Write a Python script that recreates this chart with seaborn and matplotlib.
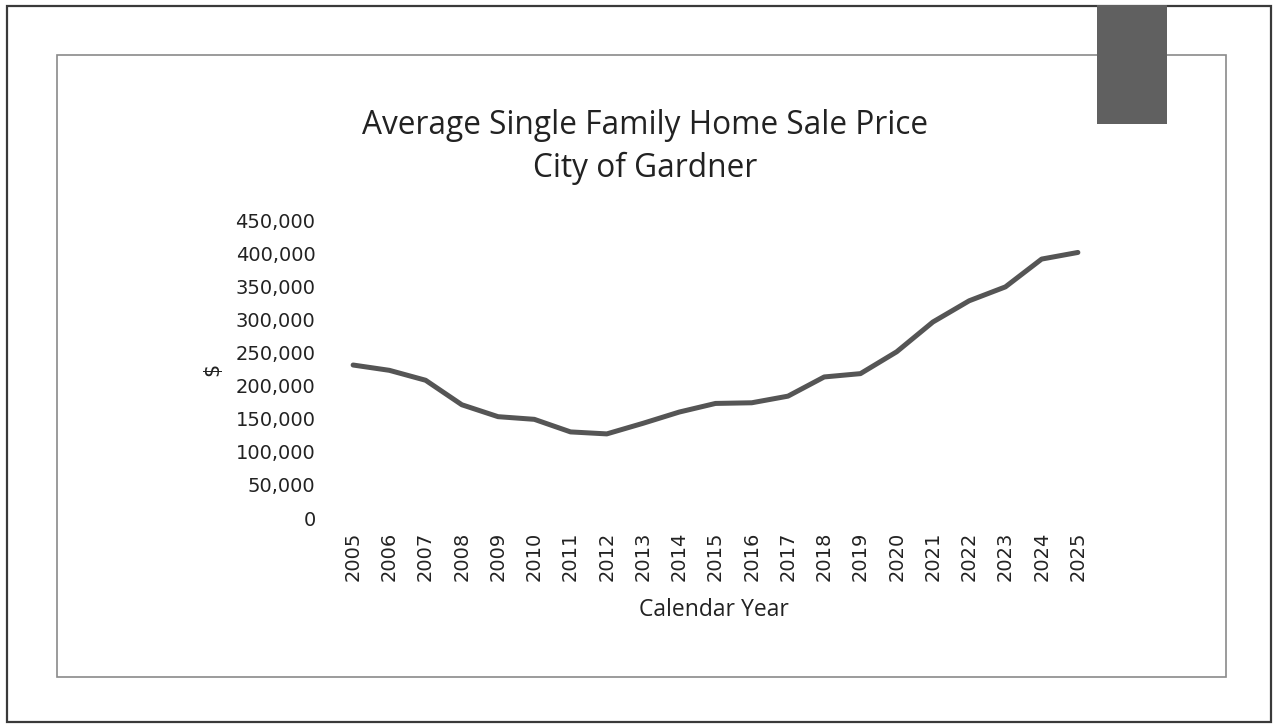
import matplotlib
matplotlib.use("Agg")
import matplotlib.pyplot as plt
import seaborn as sns
import pandas as pd
from matplotlib.patches import Rectangle
from matplotlib.ticker import FuncFormatter

# ─── Data ──────────────────────────────────────────────────────────────────────

years = [str(y) for y in range(2005, 2026)]
avg_price = [
    231000, 223000, 208000, 171000, 153000, 149000, 130000, 127000,
    143000, 160000, 173000, 174000, 184000, 213000, 218000, 251000,
    296000, 328000, 349000, 391000, 401000,
]
y_ticks = [0, 50000, 100000, 150000, 200000, 250000, 300000, 350000, 400000, 450000]

W, H = 1273, 724

sns.set_theme(style="white")
plt.rcParams['font.family'] = ['DejaVu Sans']

fig = plt.figure(figsize=(W / 100, H / 100), dpi=100)
fig.patch.set_facecolor("white")


def px_rect(x0, y0, x1, y1, **kw):
    """Rectangle in pixel coords (origin top-left) added to the figure."""
    r = Rectangle((x0 / W, 1 - y1 / H), (x1 - x0) / W, (y1 - y0) / H,
                  transform=fig.transFigure, **kw)
    fig.patches.append(r)


# outer frame, inner chart frame, scanned dark patch
px_rect(7, 6, 1271, 722, fill=False, edgecolor="#3a3a3a", lw=1.6)
px_rect(57, 55, 1226, 677, fill=False, edgecolor="#8a8a8a", lw=1.2)
px_rect(1097, 5, 1167, 124, facecolor="#606060", edgecolor="none")

# ─── Plot ───────────────────────────────────────────────────────────────────────

ax = fig.add_axes([335 / W, 1 - 518 / H, (1096 - 335) / W, (518 - 220) / H])
df = pd.DataFrame({"year": years, "price": avg_price})
sns.lineplot(data=df, x="year", y="price", ax=ax, color="#555555", lw=3.6,
             sort=False)

ax.set_xlim(-0.5, len(years) - 0.5)
ax.set_ylim(0, 450000)
ax.set_yticks(y_ticks)
ax.yaxis.set_major_formatter(FuncFormatter(lambda v, _: f"{int(v):,}"))
ax.set_xlabel("")
ax.set_ylabel("")
for s in ax.spines.values():
    s.set_visible(False)
ax.tick_params(axis="y", length=0, pad=14, labelsize=14, labelcolor="#222222")
ax.tick_params(axis="x", length=0, pad=10, labelsize=14, labelcolor="#222222",
               labelrotation=90)
ax.grid(False)
ax.set_facecolor("none")

title_font = dict(family=["Open Sans", "DejaVu Sans"], color="#222222")
fig.text(645 / W, 1 - 125 / H, "Average Single Family Home Sale Price",
         ha="center", va="center", fontsize=22.8, **title_font)
fig.text(645 / W, 1 - 168 / H, "City of Gardner",
         ha="center", va="center", fontsize=22.8, **title_font)
fig.text(714 / W, 1 - 610 / H, "Calendar Year", ha="center", va="center",
         fontsize=16.5, **title_font)
fig.text(212 / W, 1 - 369 / H, "$", ha="center", va="center", rotation=90,
         fontsize=15, color="#222222")

fig.savefig("out.png", dpi=100, facecolor="white")
